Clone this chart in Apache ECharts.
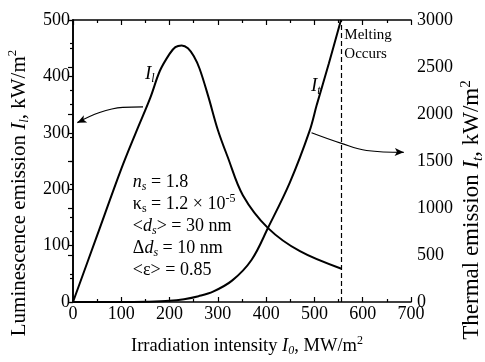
<!DOCTYPE html>
<html>
<head>
<meta charset="utf-8">
<script src="https://cdn.jsdelivr.net/npm/echarts@6/dist/echarts.min.js"></script>
<style>
  html, body { margin: 0; background: #fff; }
  #chart { width: 485px; height: 362px; }
</style>
</head>
<body>
<div id="chart"></div>
<script>
// fonts used everywhere in the figure
const FONT = '"Liberation Serif", "Times New Roman", serif';

// axis ticks
const xTicks = [0, 100, 200, 300, 400, 500, 600, 700];
const leftTicks = [0, 100, 200, 300, 400, 500];
const rightTicks = [0, 500, 1000, 1500, 2000, 2500, 3000];

// luminescence emission I_l (left axis, kW/m2)
const irradiationL = [0, 50, 100, 130, 160, 180, 200, 212, 225, 238, 250, 262, 280, 300, 320, 352, 404, 470, 556];
const luminescence = [0, 118, 236, 300, 362, 410, 440, 452, 455, 450, 436, 414, 365, 305, 258, 189, 131, 90, 59];

// thermal emission I_t (right axis, kW/m2)
const irradiationT = [0, 100, 150, 200, 230, 260, 290, 330, 370, 404, 449, 490, 505, 530, 555];
const thermal = [0, 0, 3, 12, 30, 62, 110, 230, 450, 790, 1270, 1820, 2100, 2540, 3000];

// melting threshold (dashed line)
const meltingAt = 556;

// curved pointer arrows (from curve to its axis)
const leftArrowX = [145, 103, 55, 9];
const leftArrowY = [346, 345, 336, 318];
const rightArrowX = [494, 556, 608, 685];
const rightArrowY = [1800, 1687, 1612, 1592];

const pairs = (xs, ys) => xs.map((x, i) => [x, ys[i]]);

// arrow line: only the last point carries the arrow head
function arrowData(xs, ys, rot) {
  const d = pairs(xs, ys).map((p) => ({ value: p, symbol: "none" }));
  d[d.length - 1] = { value: d[d.length - 1].value, symbol: "arrow", symbolSize: [6, 9], symbolRotate: rot };
  return d;
}

// rich text styles for a given base size (italic letters, sub/superscripts)
function makeRich(size, lh) {
  const s = Math.round(size * 0.64);
  return {
    n: { fontFamily: FONT, fontSize: size, color: "#000", lineHeight: lh },
    i: { fontFamily: FONT, fontSize: size, fontStyle: "italic", color: "#000", lineHeight: lh },
    sub: { fontFamily: FONT, fontSize: s, fontStyle: "italic", color: "#000", verticalAlign: "bottom", lineHeight: s + 3 },
    subn: { fontFamily: FONT, fontSize: s, color: "#000", verticalAlign: "bottom", lineHeight: s + 3 },
    sup: { fontFamily: FONT, fontSize: s, color: "#000", verticalAlign: "top", lineHeight: s + 3 },
  };
}

const TICK_F = 18;
const black = { color: "#000", width: 1.6 };
const tickLine = { color: "#000", width: 1.2 };

function xAxisCfg(pos, showLabel) {
  return {
    type: "value",
    position: pos,
    min: xTicks[0],
    max: xTicks[xTicks.length - 1],
    interval: 100,
    axisLine: { show: true, onZero: false, lineStyle: black },
    axisTick: { show: true, inside: true, length: 5, lineStyle: tickLine },
    minorTick: { show: true, splitNumber: 2, length: 3, lineStyle: tickLine },
    splitLine: { show: false },
    axisLabel: { show: showLabel, color: "#000", fontFamily: FONT, fontSize: TICK_F, margin: 3 },
  };
}

const chart = echarts.init(document.getElementById("chart"), null, { renderer: "canvas" });

const option = {
  animation: false,
  backgroundColor: "#fff",
  grid: { left: 73, right: 74, top: 20, bottom: 53 },
  xAxis: [
    Object.assign(xAxisCfg("bottom", true), {
      name: "{n|Irradiation intensity }{i|I}{sub|0}{n|, MW/m}{sup|2}",
      nameLocation: "middle",
      nameGap: 33,
      nameTextStyle: { rich: makeRich(18.5, 22), padding: [0, 0, 0, 10] },
    }),
    xAxisCfg("top", false),
  ],
  yAxis: [
    {
      type: "value",
      position: "left",
      min: leftTicks[0],
      max: leftTicks[leftTicks.length - 1],
      interval: 100,
      axisLine: { show: true, lineStyle: black },
      axisTick: { show: true, inside: false, length: 5, lineStyle: tickLine },
      minorTick: { show: true, splitNumber: 2, length: 3, lineStyle: tickLine },
      splitLine: { show: false },
      axisLabel: { color: "#000", fontFamily: FONT, fontSize: TICK_F, margin: 3 },
    },
    {
      type: "value",
      position: "right",
      min: rightTicks[0],
      max: rightTicks[rightTicks.length - 1],
      interval: 500,
      axisLine: { show: true, lineStyle: black },
      axisTick: { show: true, inside: true, length: 5, lineStyle: tickLine },
      minorTick: { show: true, splitNumber: 2, length: 3, lineStyle: tickLine },
      splitLine: { show: false },
      axisLabel: { color: "#000", fontFamily: FONT, fontSize: TICK_F, margin: 6, formatter: (v) => String(v) },
    },
  ],
  series: [
    {
      name: "I_l",
      type: "line",
      xAxisIndex: 0,
      yAxisIndex: 0,
      data: pairs(irradiationL, luminescence),
      smooth: 0.35,
      showSymbol: false,
      lineStyle: { color: "#000", width: 2 },
    },
    {
      name: "I_t",
      type: "line",
      xAxisIndex: 0,
      yAxisIndex: 1,
      data: pairs(irradiationT, thermal),
      smooth: 0.35,
      showSymbol: false,
      lineStyle: { color: "#000", width: 2 },
      markLine: {
        silent: true,
        symbol: "none",
        label: { show: false },
        lineStyle: { color: "#000", width: 1.2, type: [5, 3] },
        data: [{ xAxis: meltingAt }],
      },
    },
    {
      name: "arrow-l",
      type: "line",
      xAxisIndex: 0,
      yAxisIndex: 0,
      data: arrowData(leftArrowX, leftArrowY, 115),
      smooth: 0.4,
      symbol: "none",
      showSymbol: true,
      itemStyle: { color: "#000" },
      lineStyle: { color: "#000", width: 1.2 },
    },
    {
      name: "arrow-t",
      type: "line",
      xAxisIndex: 0,
      yAxisIndex: 1,
      data: arrowData(rightArrowX, rightArrowY, -93),
      smooth: 0.4,
      symbol: "none",
      showSymbol: true,
      itemStyle: { color: "#000" },
      lineStyle: { color: "#000", width: 1.2 },
    },
  ],
};

chart.setOption(option);

// annotations placed at data coordinates
const toL = (x, y) => chart.convertToPixel({ xAxisIndex: 0, yAxisIndex: 0 }, [x, y]);
const toT = (x, y) => chart.convertToPixel({ xAxisIndex: 0, yAxisIndex: 1 }, [x, y]);

const labelL = toL(159, 405);
const labelT = toT(503, 2300);
const melt = toL(562, 491);
const params = toL(124, 232);

function txt(x, y, text, size, rot) {
  return {
    type: "text",
    x, y,
    rotation: rot || 0,
    style: { text, rich: makeRich(size, size + 4), fill: "#000", font: size + "px " + FONT, align: "center", verticalAlign: "middle" },
  };
}

chart.setOption({
  graphic: [
    txt(labelL[0], labelL[1], "{i|I}{sub|l}", 19),
    txt(labelT[0], labelT[1], "{i|I}{sub|t}", 19),
    {
      type: "text",
      x: melt[0], y: melt[1],
      style: { text: "Melting\nOccurs", fill: "#000", font: "15px " + FONT, lineHeight: 19, align: "left", verticalAlign: "top" },
    },
    {
      type: "text",
      x: params[0], y: params[1],
      style: {
        text: [
          "{i|n}{sub|s}{n| = 1.8}",
          "{n|κ}{subn|s}{n| = 1.2 × 10}{sup|-5}",
          "{n|<}{i|d}{sub|s}{n|> = 30 nm}",
          "{n|Δ}{i|d}{sub|s}{n| = 10 nm}",
          "{n|<ε> = 0.85}",
        ].join("\n"),
        rich: makeRich(18, 22),
        fill: "#000", font: "18px " + FONT, align: "left", verticalAlign: "top",
      },
    },
    txt(19, 193, "{n|Luminescence emission }{i|I}{sub|l}{n|, kW/m}{sup|2}", 21, Math.PI / 2),
    txt(472, 210, "{n|Thermal emission }{i|I}{sub|t}{n|, kW/m}{sup|2}", 23, Math.PI / 2),
  ],
});
</script>
</body>
</html>
